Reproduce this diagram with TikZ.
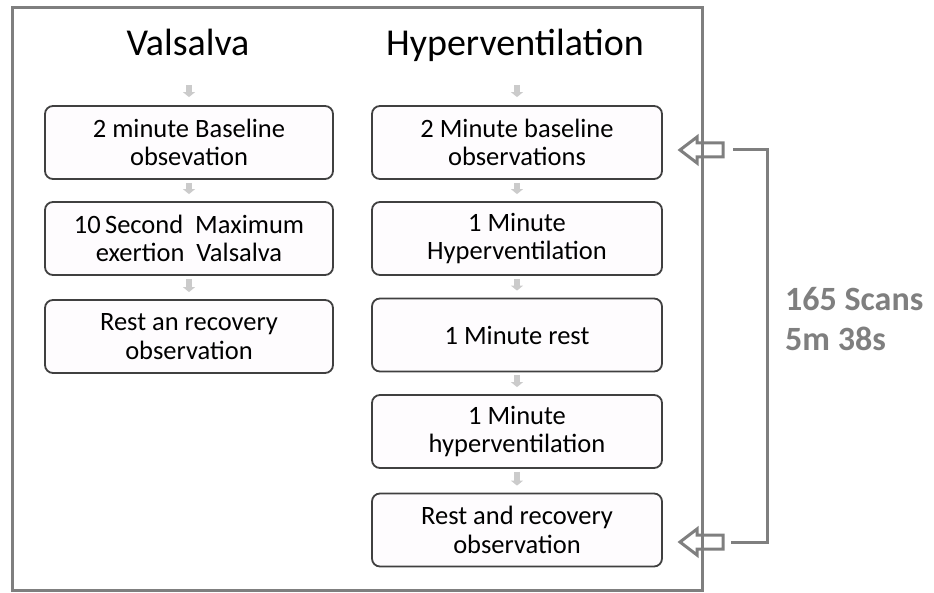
\documentclass[tikz,border=0pt]{standalone}
\usepackage{fontspec}
\setmainfont{Carlito}
\usetikzlibrary{arrows.meta,calc}
\definecolor{framegray}{HTML}{7F7F7F}
\definecolor{boxline}{HTML}{404040}
\definecolor{boxfill}{HTML}{FEFCFE}
\definecolor{smallarr}{HTML}{CBCBCB}
\begin{document}
\begin{tikzpicture}[x=1pt,y=-1pt,
  stepbox/.style={draw=boxline,line width=1.8pt,rounded corners=8pt,fill=boxfill,
    minimum height=73pt,align=center,inner sep=0pt,
    font=\fontsize{26.5}{28.5}\selectfont},
  lbox/.style={stepbox,minimum width=288pt},
  rbox/.style={stepbox,minimum width=290pt},
  title/.style={font=\fontsize{38}{40}\selectfont,inner sep=0pt,anchor=base},
  tinyarr/.style={draw=smallarr,line width=6pt,shorten <=3pt,shorten >=7pt,
    -{Triangle[width=12pt,length=5pt]}},
  hollow/.style={draw=framegray,line width=3pt,line join=miter},
  bracket/.style={draw=framegray,line width=3pt},
  scans/.style={text=framegray,font=\bfseries\fontsize{34}{40}\selectfont,align=left,anchor=west,inner sep=0pt}
]
\useasboundingbox (0,0) rectangle (934,593);
% titles
\node[title] (tv) at (188,56) {Valsalva};
\node[title] (th) at (515,56) {Hyperventilation};
\coordinate (tva) at (189,85);
\coordinate (tha) at (517,85);
% left column
\node[lbox] (l1) at (189,142.5) {2 minute Baseline\\obsevation};
\node[lbox] (l2) at (189,238.5) {10\,Second\ \ Maximum\\exertion\ \ Valsalva};
\node[lbox] (l3) at (189,336.5) {Rest an recovery\\observation};
% right column
\node[rbox] (r1) at (517,142.5) {2 Minute baseline\\observations};
\node[rbox] (r2) at (517,238.5) {1 Minute\\Hyperventilation};
\node[rbox] (r3) at (517,335) {1 Minute rest};
\node[rbox] (r4) at (517,431.5) {1 Minute\\hyperventilation};
\node[rbox] (r5) at (517,530) {Rest and recovery\\observation};
% small arrows
\draw[tinyarr,shorten <=0pt,shorten >=8pt] (tva) -- (l1.north);
\draw[tinyarr] (l1.south) -- (l2.north);
\draw[tinyarr] (l2.south) -- (l3.north);
\draw[tinyarr,shorten <=0pt,shorten >=8pt] (tha) -- (r1.north);
\draw[tinyarr] (r1.south) -- (r2.north);
\draw[tinyarr] (r2.south) -- (r3.north);
\draw[tinyarr] (r3.south) -- (r4.north);
\draw[tinyarr] (r4.south) -- (r5.north);
% frame
\draw[framegray,line width=3pt] (12,8) rectangle (702,590);
% hollow arrows and bracket
\coordinate (a1) at (680,150);
\coordinate (a2) at (680,542);
\foreach \a in {a1,a2}{
  \draw[hollow] (\a) -- ++(17,-13) -- ++(0,6) -- ++(26,0) -- ++(0,14) -- ++(-26,0) -- ++(0,6) -- cycle;
}
\coordinate (b1) at (733,150);
\coordinate (b2) at (731,542);
\draw[bracket] (b1) -- (767,150) -- (767,542) -- (b2);
\node[scans] (lab) at (785,319) {165 Scans\\5m 38s};
\end{tikzpicture}
\end{document}
